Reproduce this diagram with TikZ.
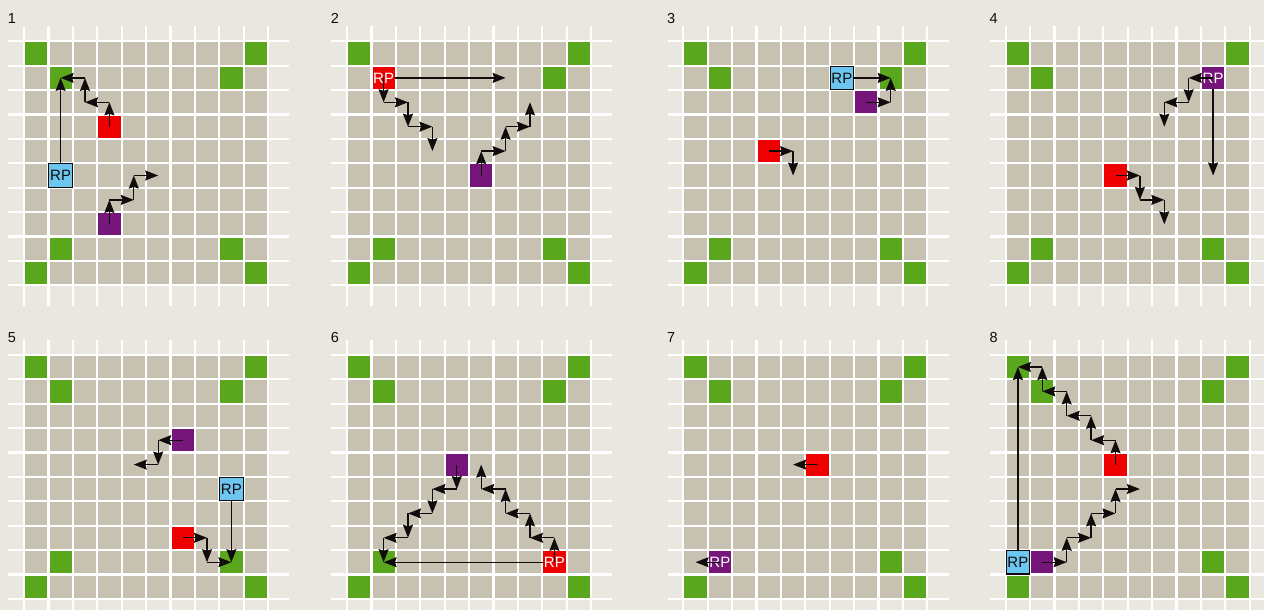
\documentclass[tikz,border=0pt]{standalone}
\usepackage{fontspec}
\setmainfont{Liberation Sans}
\usetikzlibrary{arrows.meta}
\definecolor{bg}{RGB}{234,231,224}
\definecolor{tancell}{RGB}{198,193,177}
\definecolor{grn}{RGB}{90,167,30}
\definecolor{rd}{RGB}{238,0,0}
\definecolor{prp}{RGB}{118,22,122}
\definecolor{blu}{RGB}{108,198,240}
\definecolor{ink}{RGB}{17,12,12}
\tikzset{
  arr/.style={draw=ink, line width=1.35pt, -{Stealth[length=13pt,width=10pt,inset=1.5pt]}},
  gridline/.style={white, line width=2.2pt},
  sq/.style={minimum size=22.2pt, inner sep=0pt, outer sep=0pt, draw=none},
  redsq/.style={sq, fill=rd},
  prpsq/.style={sq, fill=prp},
  rpfont/.style={font=\fontsize{15}{15}\selectfont},
  rpred/.style={redsq, rpfont, text=white},
  rpprp/.style={prpsq, rpfont, text=white},
  rpblue/.style={minimum size=23.6pt, inner sep=0pt, outer sep=0pt, fill=blu, draw=ink, line width=1.1pt, rpfont, text=ink},
  plabel/.style={font=\fontsize{14.5}{14.5}\selectfont, anchor=base west, inner sep=0pt, text=ink},
}
\newcommand\panel[4]{%
  \begin{scope}[shift={(#2,#3)}]
    \fill[tancell] (0,0) rectangle (244,244);
    \foreach \i in {0,...,10}{
      \draw[gridline] (24.4*\i,-15.3) -- (24.4*\i,264.7);
      \draw[gridline] (-15.7,24.4*\i) -- (265.3,24.4*\i);
    }
    \foreach \c in {0,...,9}{\foreach \r in {0,...,9}{\coordinate (#1-\c-\r) at (24.4*\c+12.2,24.4*\r+12.2);}}
    \foreach \c/\r in {0/0,9/0,1/1,8/1,1/8,8/8,0/9,9/9}{\fill[grn] (24.4*\c+1.1,24.4*\r+1.1) rectangle +(22.2,22.2);}
    \node[plabel] (lab#1) at (-16.3,#4) {#1};
  \end{scope}
}
\newcommand\stairs[2]{%
  \gdef\stprev{}%
  \foreach \cc/\rr in {#2}{%
    \ifx\stprev\empty\else\draw[arr] (#1-\stprev) -- (#1-\cc-\rr);\fi
    \xdef\stprev{\cc-\rr}%
  }%
}
\begin{document}
\begin{tikzpicture}[x=1pt,y=-1pt]
\useasboundingbox (0,0) rectangle (1264,610);
\clip (0,0) rectangle (1264,610);
\fill[bg] (0,0) rectangle (1264,610);

\panel{1}{24}{41.3}{-18}
\panel{2}{347}{41.3}{-18}
\panel{3}{683.3}{41.3}{-18}
\panel{4}{1005.7}{41.3}{-18}
\panel{5}{24}{354.8}{-12.3}
\panel{6}{347}{354.8}{-12.3}
\panel{7}{683.3}{354.8}{-12.3}
\panel{8}{1005.7}{354.8}{-12.3}

% panel 1
\node[redsq] (r1) at (1-3-3) {};
\node[prpsq] (m1) at (1-3-7) {};
\node[rpblue] (rp1) at (1-1-5) {RP};
\draw[arr] (rp1) -- (1-1-1);
\stairs{1}{3/3,3/2,2/2,2/1,1/1}
\stairs{1}{3/7,3/6,4/6,4/5,5/5}

% panel 2
\node[rpred] (rp2) at (2-1-1) {RP};
\node[prpsq] (m2) at (2-5-5) {};
\draw[arr] (rp2) -- (2-6-1);
\stairs{2}{1/1,1/2,2/2,2/3,3/3,3/4}
\stairs{2}{5/5,5/4,6/4,6/3,7/3,7/2}

% panel 3
\node[rpblue] (rp3) at (3-6-1) {RP};
\node[prpsq] (m3) at (3-7-2) {};
\node[redsq] (r3) at (3-3-4) {};
\draw[arr] (rp3) -- (3-8-1);
\stairs{3}{7/2,8/2,8/1}
\stairs{3}{3/4,4/4,4/5}

% panel 4
\node[rpprp] (rp4) at (4-8-1) {RP};
\node[redsq] (r4) at (4-4-5) {};
\draw[arr] (rp4) -- (4-8-5);
\stairs{4}{8/1,7/1,7/2,6/2,6/3}
\stairs{4}{4/5,5/5,5/6,6/6,6/7}

% panel 5
\node[prpsq] (m5) at (5-6-3) {};
\node[rpblue] (rp5) at (5-8-5) {RP};
\node[redsq] (r5) at (5-6-7) {};
\draw[arr] (rp5) -- (5-8-8);
\stairs{5}{6/3,5/3,5/4,4/4}
\stairs{5}{6/7,7/7,7/8,8/8}

% panel 6
\node[prpsq] (m6) at (6-4-4) {};
\node[rpred] (rp6) at (6-8-8) {RP};
\draw[arr] (rp6) -- (6-1-8);
\stairs{6}{4/4,4/5,3/5,3/6,2/6,2/7,1/7,1/8}
\stairs{6}{8/8,8/7,7/7,7/6,6/6,6/5,5/5,5/4}

% panel 7
\node[redsq] (r7) at (7-5-4) {};
\node[rpprp] (rp7) at (7-1-8) {RP};
\stairs{7}{5/4,4/4}
\stairs{7}{1/8,0/8}

% panel 8
\node[rpblue] (rp8) at (8-0-8) {RP};
\node[prpsq] (m8) at (8-1-8) {};
\node[redsq] (r8) at (8-4-4) {};
\draw[arr] (rp8) -- (8-0-0);
\stairs{8}{1/8,2/8,2/7,3/7,3/6,4/6,4/5,5/5}
\stairs{8}{4/4,4/3,3/3,3/2,2/2,2/1,1/1,1/0,0/0}
\end{tikzpicture}
\end{document}
